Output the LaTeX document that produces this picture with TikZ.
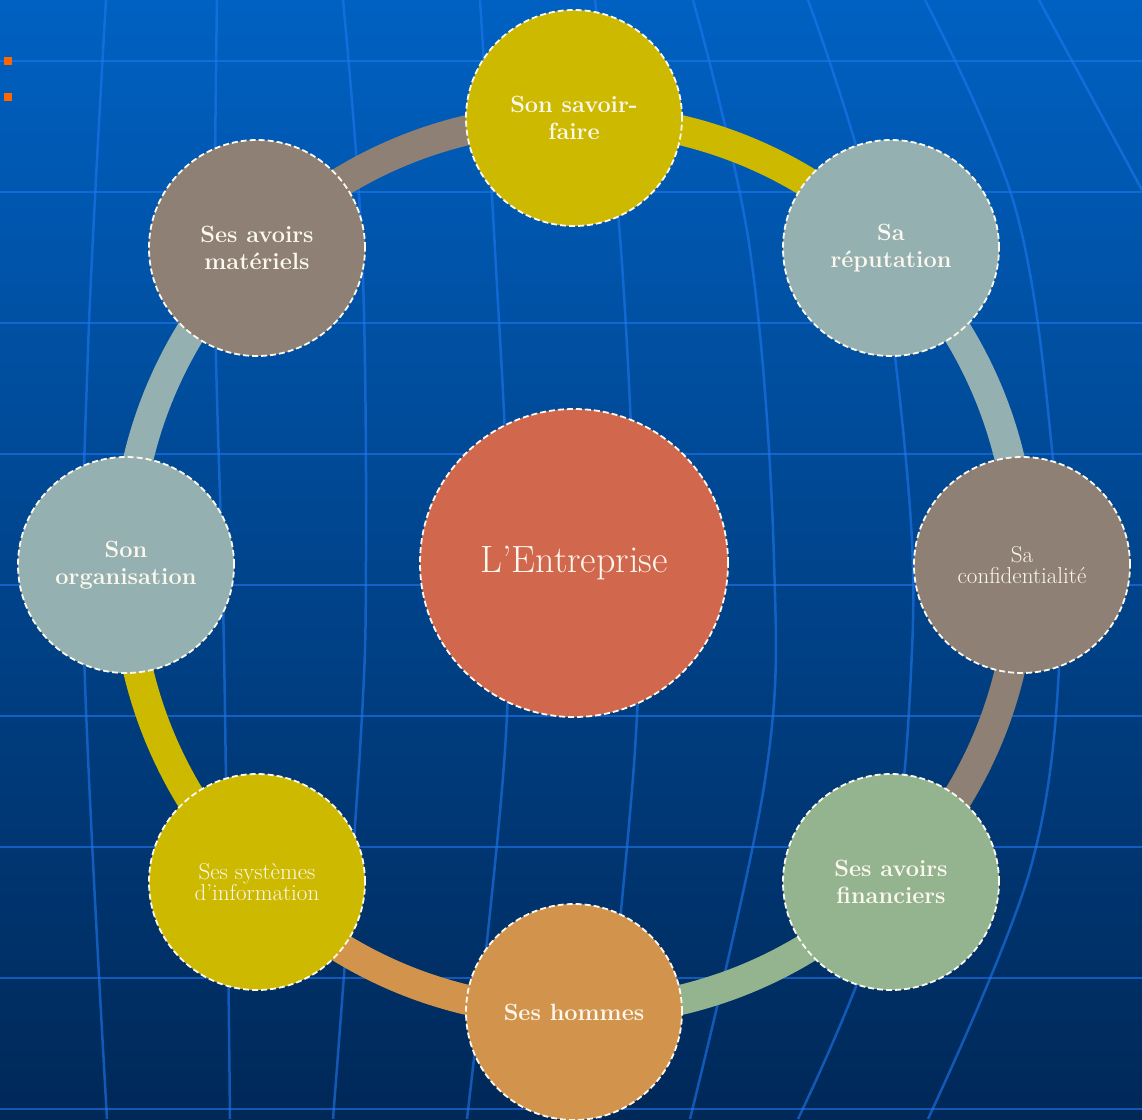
\documentclass[tikz,border=0pt]{standalone}
\usepackage{fontspec}
\usetikzlibrary{backgrounds}

\definecolor{skytop}{RGB}{0,97,194}
\definecolor{skybot}{RGB}{0,40,88}
\definecolor{gridblue}{RGB}{30,120,240}
\definecolor{mustard}{RGB}{204,185,0}
\definecolor{sage}{RGB}{148,176,176}
\definecolor{taupe}{RGB}{142,128,116}
\definecolor{moss}{RGB}{148,180,144}
\definecolor{ochre}{RGB}{210,148,76}
\definecolor{brick}{RGB}{209,104,78}
\definecolor{bullet}{RGB}{255,102,0}
\definecolor{chalk}{RGB}{252,248,238}

\tikzset{
	part/.style={circle, minimum size=216pt, inner sep=0pt, draw=chalk, line width=1.8pt, dash pattern=on 6pt off 3pt, text=chalk, align=center, font=\fontsize{23.5}{27}\selectfont\bfseries},
	thin label/.style={font=\fontsize{23}{21}\selectfont},
	hub/.style={part, minimum size=308pt, font=\fontsize{38}{44}\selectfont},
	ring/.style={line width=30pt, bend left=22.5, looseness=0.9},
	meridian/.style={gridblue, opacity=0.6, line width=2.5pt}
}

\begin{document}
\begin{tikzpicture}[x=1pt, y=-1pt]
			%%%%% START %%%%%
			\useasboundingbox (0,0) rectangle (1142,1119);
			
			\node[hub, fill=brick] (firm) at (574,563) {L’Entreprise};
			
			\node[part, fill=mustard] (savoir) at (574,118) {Son savoir-\\faire};
			\node[part, fill=sage] (reputation) at (891,248) {Sa\\réputation};
			\node[part, thin label, fill=taupe] (secret) at (1022,565) {Sa\\confidentialité};
			\node[part, fill=moss] (finance) at (891,882) {Ses avoirs\\financiers};
			\node[part, fill=ochre] (staff) at (574,1012) {Ses hommes};
			\node[part, thin label, fill=mustard] (infosys) at (257,882) {Ses systèmes\\d’information};
			\node[part, fill=sage] (orga) at (126,565) {Son\\organisation};
			\node[part, fill=taupe] (assets) at (257,248) {Ses avoirs\\matériels};
			
			\begin{scope}[on background layer]
			\shade[top color=skytop, bottom color=skybot] (0,0) rectangle (1142,1119);
			
			\foreach \y in {61,192,...,1109}
				\draw[meridian] (0,\y) -- (1142,\y);
			\draw[meridian] plot[smooth, tension=0.6] coordinates {(106,0) (88,350) (84,650) (107,1119)};
			\draw[meridian] plot[smooth, tension=0.6] coordinates {(217,0) (215,300) (224,650) (230,1119)};
			\draw[meridian] plot[smooth, tension=0.6] coordinates {(343,0) (362,250) (366,560) (360,750) (333,1119)};
			\draw[meridian] plot[smooth, tension=0.6] coordinates {(480,0) (495,250) (507,500) (505,750) (467,1119)};
			\draw[meridian] plot[smooth, tension=0.6] coordinates {(595,0) (621,250) (636,560) (635,750) (600,1119)};
			\draw[meridian] plot[smooth, tension=0.6] coordinates {(693,0) (750,250) (774,560) (765,780) (690,1119)};
			\draw[meridian] plot[smooth, tension=0.6] coordinates {(808,0) (870,200) (905,450) (912,650) (885,900) (798,1119)};
			\draw[meridian] plot[smooth, tension=0.6] coordinates {(925,0) (1015,207) (1052,450) (1060,650) (1030,870) (928,1119)};
			\draw[meridian] (1039,0) -- (1142,190);
			
			\draw[ring, mustard] (savoir.center) to (reputation.center);
			\draw[ring, sage] (reputation.center) to (secret.center);
			\draw[ring, taupe] (secret.center) to (finance.center);
			\draw[ring, moss] (finance.center) to (staff.center);
			\draw[ring, ochre] (staff.center) to (infosys.center);
			\draw[ring, mustard] (infosys.center) to (orga.center);
			\draw[ring, sage] (orga.center) to (assets.center);
			\draw[ring, taupe] (assets.center) to (savoir.center);
			\end{scope}
			
			\fill[bullet] (4,57) rectangle (12,65);
			\fill[bullet] (4,93) rectangle (12,101);
			%%%%% END %%%%%
\end{tikzpicture}
\end{document}
